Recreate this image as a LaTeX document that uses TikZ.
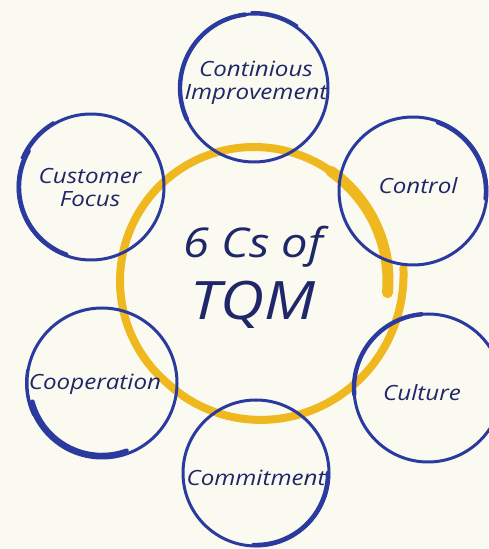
\documentclass[tikz,border=0pt]{standalone}
\usepackage{fontspec}
\setmainfont[FakeStretch=1.15]{Open Sans}

\definecolor{paper}{HTML}{FAFAF0}
\definecolor{ringblue}{HTML}{2B3A9E}
\definecolor{inkblue}{HTML}{1F2768}
\definecolor{gold}{HTML}{EFB81E}

\tikzset{
  ring/.style={ringblue, line width=3pt},
  brush/.style={ringblue, line width=4.4pt, line cap=round},
  tail/.style={ringblue, line width=2pt, line cap=round},
  lbl/.style={inkblue, font=\itshape\fontsize{21}{23}\selectfont, align=center, inner sep=0pt},
}

\begin{document}
\begin{tikzpicture}[x=1pt, y=1pt]

    % Page
    \fill[paper] (0,0) rectangle (488,549);
    \useasboundingbox (0,0) rectangle (488,549);

    % Centre ring (a brush spiral)
    \coordinate (hub) at (254,268);
    \draw[gold, line width=8pt, line cap=round]
    plot[domain=5:-355, smooth, samples=120]
    ({254+(134+16*max(0,(\x+130)/135))*cos(\x)}, {268+(134+16*max(0,(\x+130)/135))*sin(\x)});
    \draw[gold, line width=11pt, line cap=round]
    ([shift={(55:134pt)}]hub) arc[start angle=55, end angle=-5, radius=134pt];

    % Continious Improvement
    \coordinate (imp) at (254,461);
    \draw[ring] (imp) circle (74pt);
    \draw[brush] ([shift={(97:74pt)}]imp) arc[start angle=97, end angle=205, radius=74pt];
    \draw[tail] ([shift={(55:76pt)}]imp) arc[start angle=55, end angle=92, radius=76pt];

    % Customer Focus
    \coordinate (cus) at (91,362);
    \draw[ring] (cus) circle (73pt);
    \draw[brush] ([shift={(150:72pt)}]cus) arc[start angle=150, end angle=250, radius=72pt];
    \draw[tail] ([shift={(120:75pt)}]cus) arc[start angle=120, end angle=157, radius=76pt];

    % Control
    \coordinate (con) at (413,358);
    \draw[ring] (con) circle (74pt);
    \draw[brush] ([shift={(70:73pt)}]con) arc[start angle=70, end angle=-6, radius=73pt];

    % Cooperation
    \coordinate (coo) at (102,166);
    \draw[ring] (coo) circle (75pt);
    \draw[brush] ([shift={(195:72pt)}]coo) arc[start angle=195, end angle=290, radius=72pt];
    \draw[tail] ([shift={(170:76pt)}]coo) arc[start angle=170, end angle=205, radius=76pt];

    % Culture
    \coordinate (cul) at (428,161);
    \draw[ring] (cul) circle (74pt);
    \draw[brush] ([shift={(95:74pt)}]cul) arc[start angle=95, end angle=185, radius=74pt];

    % Commitment
    \coordinate (com) at (256,76);
    \draw[ring] (com) circle (73pt);
    \draw[brush] ([shift={(268:72pt)}]com) arc[start angle=268, end angle=360, radius=72pt];

    % Labels
    \node[lbl] (imp-t) at (256,466) {Continious\\Improvement};
    \node[lbl] (cus-t) at (90,361) {Customer\\Focus};
    \node[lbl] (con-t) at (418,363) {Control};
    \node[lbl] (coo-t) at (95,165) {Cooperation};
    \node[lbl] (cul-t) at (422,156) {Culture};
    \node[lbl] (com-t) at (256,71) {Commitment};
    \node[lbl, font=\itshape\fontsize{41}{62}\selectfont] (title) at (253,272)
      {6 Cs of\\{\fontsize{53}{62}\selectfont TQM}};

\end{tikzpicture}
\end{document}
